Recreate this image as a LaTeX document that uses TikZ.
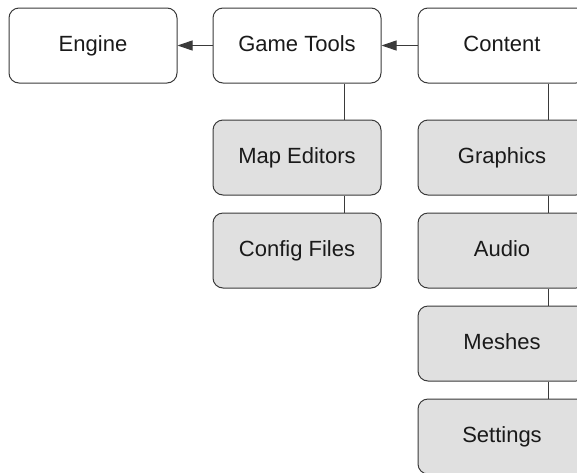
\documentclass[tikz,border=0pt]{standalone}
\usepackage{fontspec}
\setmainfont{Liberation Sans}
\usetikzlibrary{arrows.meta}
\definecolor{boxline}{HTML}{3A3A3A}
\definecolor{boxfill}{HTML}{E0E0E0}
\definecolor{txt}{HTML}{1A1A1A}
\tikzset{
  box/.style={draw=boxline, line width=1pt, rounded corners=10pt, minimum width=168pt, minimum height=75pt, inner sep=0pt, text=txt, font=\fontsize{22}{26}\selectfont, text height=16pt, text depth=4.5pt, fill=white},
  sub/.style={box, fill=boxfill},
  link/.style={draw=boxline, line width=1pt},
  arr/.style={link, -{Triangle[length=15pt,width=10pt]}}
}
\begin{document}
\begin{tikzpicture}[x=1pt,y=-1pt]
\useasboundingbox (0,0) rectangle (577,472);
\clip (0,0) rectangle (577,472);
\node[box] (en) at (93,45.5) {Engine};
\node[box] (gt) at (297,45.5) {Game Tools};
\node[box] (ct) at (502,45.5) {Content};
\node[sub] (me) at (297,157.5) {Map Editors};
\node[sub] (cf) at (297,250.5) {Config Files};
\node[sub] (gr) at (502,157.5) {Graphics};
\node[sub] (au) at (502,250.5) {Audio};
\node[sub] (mh) at (502,343.5) {Meshes};
\node[sub] (st) at (502,436.5) {Settings};
\draw[arr] (gt.west) -- (en.east);
\draw[arr] (ct.west) -- (gt.east);
\draw[link] ([xshift=47pt]gt.south) -- ([xshift=47pt]me.north);
\draw[link] ([xshift=47pt]me.south) -- ([xshift=47pt]cf.north);
\draw[link] ([xshift=46pt]ct.south) -- ([xshift=46pt]gr.north);
\draw[link] ([xshift=46pt]gr.south) -- ([xshift=46pt]au.north);
\draw[link] ([xshift=46pt]au.south) -- ([xshift=46pt]mh.north);
\draw[link] ([xshift=46pt]mh.south) -- ([xshift=46pt]st.north);
\end{tikzpicture}
\end{document}
